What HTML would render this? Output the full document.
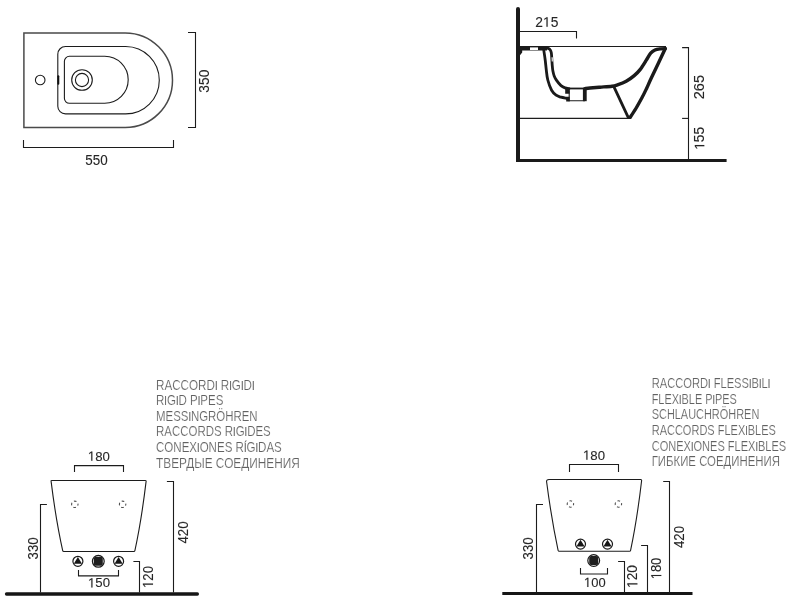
<!DOCTYPE html>
<html><head><meta charset="utf-8">
<style>
html,body{margin:0;padding:0;background:#fff;}
body{width:795px;height:602px;overflow:hidden;}
svg{display:block;will-change:transform;}
text{font-family:"Liberation Sans",sans-serif;}
.d{font-size:13.8px;fill:#262626;text-anchor:middle;stroke:#262626;stroke-width:0.1px;}
.e{font-size:13.2px;fill:#262626;text-anchor:middle;stroke:#262626;stroke-width:0.1px;}
.l{font-size:15px;fill:#626262;stroke:#fff;stroke-width:0.18px;}
.l tspan{font-size:12.2px;stroke:#626262;stroke-width:0.15px;}
.t{fill:none;stroke:#1c1c1c;stroke-width:1.1;}
.g{fill:none;stroke:#4a4a4a;stroke-width:1.5;}
.k{fill:none;stroke:#1a1a1a;stroke-width:2.5;stroke-linecap:round;stroke-linejoin:round;}
.k3{fill:none;stroke:#1a1a1a;stroke-width:2.8;stroke-linecap:round;stroke-linejoin:round;}
.k35{fill:none;stroke:#1a1a1a;stroke-width:3.4;stroke-linecap:round;stroke-linejoin:round;}
.r{font-size:14.7px;fill:#262626;text-anchor:middle;stroke:#262626;stroke-width:0.1px;}
.h{fill:none;stroke:none;}
.one{fill:#262626;stroke:#262626;stroke-width:15;}
</style></head><body>
<svg width="795" height="602" viewBox="0 0 795 602">
<rect width="795" height="602" fill="#fff"/>

<!-- ===== TOP LEFT: plan view ===== -->
<g id="plan">
<path class="g" d="M23.9 32.9 H125.2 A47.3 47.3 0 0 1 125.2 127.5 H23.9 Z"/>
<path class="t" d="M65.5 46.5 H125.6 A33.7 33.7 0 0 1 125.6 113.9 H65.5 A7.7 7.7 0 0 1 57.8 106.2 V54.2 A7.7 7.7 0 0 1 65.5 46.5 Z"/>
<path class="t" d="M69.4 56.3 H104.7 A23.5 23.5 0 0 1 104.7 103.3 H69.4 A5 5 0 0 1 64.4 98.3 V61.3 A5 5 0 0 1 69.4 56.3 Z"/>
<circle class="t" cx="40.2" cy="80" r="4.8"/>
<circle class="t" cx="82" cy="80" r="10.3"/>
<circle class="t" cx="82" cy="80" r="6.6"/>
<path d="M58.3 76.3 V83.7" stroke="#111" stroke-width="2" fill="none" stroke-linecap="round"/>
<path class="t" d="M188 32.5 H195.5 V127.5 H188"/>
<path class="t" d="M23.5 140 V147.5 H173.5 V140"/>
<text class="d" x="96.5" y="164.6" textLength="22.4" lengthAdjust="spacingAndGlyphs">550</text>
<text class="d" transform="translate(209.3 81.2) rotate(-90)" textLength="23" lengthAdjust="spacingAndGlyphs">350</text>
</g>

<!-- ===== TOP RIGHT: section ===== -->
<g id="section">
<path d="M518 9 V161.9" stroke="#1a1a1a" stroke-width="4" fill="none"/><circle cx="518" cy="9" r="2" fill="#1a1a1a"/>
<path d="M516 160.4 H726.6" stroke="#1a1a1a" stroke-width="3" fill="none"/>
<path class="t" d="M520 31.5 H576.5 V38.6"/>
<text class="d" x="546.8" y="26.8">2<tspan class="h">1</tspan>5</text><path class="one" transform="translate(542.96 26.80) scale(0.00675 -0.00674)" d="M515 0V1237L197 1010V1180L530 1409H696V0Z"/>
<path class="t" d="M520 46.5 H666"/>
<path class="t" d="M520 118.4 H630"/>
<!-- deck -->
<path d="M519.5 46.3 H547 V50.4 H522.2 V52.5 L520 55.2 Z" fill="#1a1a1a"/>
<rect x="530" y="47.4" width="8" height="2.6" fill="#fff"/>
<!-- outer skin -->
<path class="k3" d="M543.8 50.3 C544.0 51.9 544.8 56.7 545.2 60.0 C545.6 63.3 545.9 66.7 546.3 70.0 C546.7 73.3 546.9 76.6 547.8 80.0 C548.7 83.4 550.2 87.7 551.6 90.2 C553.0 92.7 554.5 94.0 556.1 95.2 C557.7 96.4 559.2 96.7 561.0 97.2 C562.8 97.7 566.0 98.1 567.0 98.3"/>
<!-- inner basin left -->
<path class="k3" d="M546.5 48.1 C546.9 48.2 548.0 48.2 548.6 48.5 C549.2 48.8 549.8 49.3 550.3 50.0 C550.8 50.7 551.1 51.6 551.3 52.8 C551.5 54.0 551.6 55.5 551.7 57.0 C551.8 58.5 551.9 60.3 552.0 62.0 C552.1 63.7 552.2 65.5 552.4 67.0 C552.5 68.5 552.6 69.5 552.9 71.0 C553.2 72.5 553.6 74.5 554.2 76.0 C554.8 77.5 555.3 78.5 556.4 80.1 C557.5 81.7 559.5 84.3 561.0 85.6 C562.5 86.9 563.9 87.4 565.2 87.9 C566.5 88.4 568.4 88.5 569.0 88.6"/>
<path d="M568 88.5 H585" stroke="#1a1a1a" stroke-width="1.8" fill="none"/>
<rect x="551.5" y="57.3" width="1.5" height="4.2" fill="#c8c8c8" transform="rotate(-4 552.3 59)"/>
<!-- drain -->
<path d="M565.2 88 H569.7 V93.7 H565.2 Z M566.2 96.7 H569.7 V101.4 H566.2 Z" fill="#1a1a1a"/>
<path d="M569.2 90.2 V100.7 H585" class="t" stroke-width="1.2"/>
<path d="M584.8 88.4 V101.2" stroke="#1a1a1a" stroke-width="3.8" fill="none"/>
<!-- basin bottom + right curve -->
<path class="k35" d="M584.8 88.6 C585.7 88.5 587.5 88.2 590.0 88.0 C592.5 87.8 596.3 87.5 600.0 87.2 C603.7 86.9 609.0 86.6 612.0 86.2 C615.0 85.8 615.7 85.4 618.1 84.6 C620.5 83.8 623.5 82.7 626.2 81.2 C628.9 79.7 631.9 77.6 634.2 75.6 C636.6 73.6 638.3 72.0 640.3 69.4 C642.3 66.8 644.6 62.9 646.3 60.2 C648.0 57.5 649.2 54.9 650.7 53.2 C652.2 51.5 653.5 50.7 655.0 50.0 C656.5 49.3 658.3 49.1 660.0 48.9 C661.7 48.7 664.4 48.6 665.3 48.6"/>
<path class="k35" d="M665.3 48.6 C663.0 53.5 654.4 71.4 651.3 78.0 C648.2 84.6 648.4 84.7 646.8 88.0 C645.2 91.3 643.6 94.7 641.8 98.0 C640.0 101.3 638.1 104.8 636.2 108.0 C634.3 111.2 631.2 115.8 630.2 117.3"/>
<path class="k3" d="M614.2 87.3 L628.2 117.3 H630.3"/>
<!-- dims -->
<path class="t" d="M682.1 47.6 H688.5 V159"/>
<path class="t" d="M682.1 118.4 H688.5"/>
<text class="d" transform="translate(704.3 87.1) rotate(-90)" textLength="24.3" lengthAdjust="spacingAndGlyphs">265</text>
<text class="d" transform="translate(704.3 138.3) rotate(-90)"><tspan class="h">1</tspan>55</text><path class="one" transform="translate(704.3 138.3) rotate(-90) translate(-11.52 0.00) scale(0.00675 -0.00674)" d="M515 0V1237L197 1010V1180L530 1409H696V0Z"/>
</g>

<!-- ===== BOTTOM LEFT: rigid ===== -->
<g id="rigid">
<path d="M6.5 594 H197.4" stroke="#161616" stroke-width="3.3" fill="none" stroke-linecap="round"/>
<path class="t" d="M51.9 480.5 H145.4 Q146.3 480.5 146.1 481.4 Q141.4 520.7 134.9 550.6 Q134.7 551.5 133.8 551.5 H63.8 Q62.9 551.5 62.7 550.6 Q56 520.7 51.1 481.4 Q50.9 480.5 51.9 480.5 Z"/>
<path class="t" d="M74.5 472 V465.6 H123.5 V472"/>
<text class="e" x="98.9" y="460.7"><tspan class="h">1</tspan>80</text><path class="one" transform="translate(87.89 460.70) scale(0.00645 -0.00645)" d="M515 0V1237L197 1010V1180L530 1409H696V0Z"/>
<circle cx="74.8" cy="504.3" r="3.2" fill="none" stroke="#505050" stroke-width="1.1" stroke-dasharray="2.7 2.33" stroke-dashoffset="1.35"/><circle cx="122.6" cy="504.3" r="3.2" fill="none" stroke="#505050" stroke-width="1.1" stroke-dasharray="2.7 2.33" stroke-dashoffset="1.35"/>
<path class="t" d="M46.9 504.5 H40.5 V592.5"/>
<text class="r" transform="translate(38 548.4) rotate(-90)" textLength="22.2" lengthAdjust="spacingAndGlyphs">330</text>
<path class="t" d="M166.9 481.5 H173.5 V592.5"/>
<text class="r" transform="translate(188.4 532.5) rotate(-90)" textLength="22.2" lengthAdjust="spacingAndGlyphs">420</text>
<path class="t" d="M133.4 561.5 H139.5 V592.5"/>
<text class="r" transform="translate(153 577) rotate(-90)" textLength="22" lengthAdjust="spacingAndGlyphs"><tspan class="h">1</tspan>20</text><path class="one" transform="translate(153 577) rotate(-90) translate(-11.00 0.00) scale(0.00644 -0.00718)" d="M515 0V1237L197 1010V1180L530 1409H696V0Z"/>
<g transform="translate(77.9 561.3)"><circle r="5" fill="#fff" stroke="#1a1a1a" stroke-width="1.2"/><path d="M0 -4.3 L4.1 2.5 H-4.1 Z" fill="#161616"/></g><g transform="translate(118.6 561.3)"><circle r="5" fill="#fff" stroke="#1a1a1a" stroke-width="1.2"/><path d="M0 -4.3 L4.1 2.5 H-4.1 Z" fill="#161616"/></g><g transform="translate(98.3 561.3)"><circle r="5.9" fill="#fff" stroke="#1a1a1a" stroke-width="1.2"/><rect x="-4.5" y="-4.5" width="9" height="9" rx="2" fill="#1e1e1e"/></g>
<path class="t" d="M78.5 570 V575.9 H118.5 V570"/>
<text class="e" x="99" y="587.4"><tspan class="h">1</tspan>50</text><path class="one" transform="translate(87.99 587.40) scale(0.00645 -0.00645)" d="M515 0V1237L197 1010V1180L530 1409H696V0Z"/>
</g>

<!-- ===== BOTTOM RIGHT: flexible ===== -->
<g id="flex">
<path d="M502.3 593.5 H692.5" stroke="#161616" stroke-width="3" fill="none"/>
<path class="t" d="M549 479.5 H640.6 Q641.8 479.5 641.6 480.7 Q637 520 630.6 550.3 Q630.4 551.3 629.5 551.3 H559.2 Q558.3 551.3 558.1 550.3 Q551.6 520 546.6 481.7 Q546.3 479.5 549 479.5 Z"/>
<path class="t" d="M569.5 472 V464.5 H618.5 V472"/>
<text class="e" x="594" y="459.7"><tspan class="h">1</tspan>80</text><path class="one" transform="translate(582.99 459.70) scale(0.00645 -0.00645)" d="M515 0V1237L197 1010V1180L530 1409H696V0Z"/>
<circle cx="570.4" cy="504" r="3.2" fill="none" stroke="#505050" stroke-width="1.1" stroke-dasharray="2.7 2.33" stroke-dashoffset="1.35"/><circle cx="618.4" cy="504" r="3.2" fill="none" stroke="#505050" stroke-width="1.1" stroke-dasharray="2.7 2.33" stroke-dashoffset="1.35"/>
<path class="t" d="M543 504.5 H536.5 V592.5"/>
<text class="r" transform="translate(532.6 548.4) rotate(-90)" textLength="22.2" lengthAdjust="spacingAndGlyphs">330</text>
<path class="t" d="M663.2 481.5 H669.5 V592.5"/>
<text class="r" transform="translate(683.5 537) rotate(-90)" textLength="22" lengthAdjust="spacingAndGlyphs">420</text>
<path class="t" d="M641.1 545.5 H647.5 V592.5"/>
<text class="r" transform="translate(661.3 568.5) rotate(-90)" textLength="21.6" lengthAdjust="spacingAndGlyphs"><tspan class="h">1</tspan>80</text><path class="one" transform="translate(661.3 568.5) rotate(-90) translate(-10.80 0.00) scale(0.00632 -0.00718)" d="M515 0V1237L197 1010V1180L530 1409H696V0Z"/>
<path class="t" d="M618.1 561.5 H624.5 V592.5"/>
<text class="r" transform="translate(637.4 576.5) rotate(-90)" textLength="23" lengthAdjust="spacingAndGlyphs"><tspan class="h">1</tspan>20</text><path class="one" transform="translate(637.4 576.5) rotate(-90) translate(-11.50 0.00) scale(0.00673 -0.00718)" d="M515 0V1237L197 1010V1180L530 1409H696V0Z"/>
<g transform="translate(580.5 544.1)"><circle r="5" fill="#fff" stroke="#1a1a1a" stroke-width="1.2"/><path d="M0 -4.3 L4.1 2.5 H-4.1 Z" fill="#161616"/></g><g transform="translate(607.5 544.1)"><circle r="5" fill="#fff" stroke="#1a1a1a" stroke-width="1.2"/><path d="M0 -4.3 L4.1 2.5 H-4.1 Z" fill="#161616"/></g><g transform="translate(593.7 560.5)"><circle r="5.9" fill="#fff" stroke="#1a1a1a" stroke-width="1.2"/><rect x="-4.5" y="-4.5" width="9" height="9" rx="2" fill="#1e1e1e"/></g>
<path class="t" d="M580.5 568 V574 H607.5 V568"/>
<text class="e" x="594.8" y="586.9" textLength="21.6" lengthAdjust="spacingAndGlyphs"><tspan class="h">1</tspan>00</text><path class="one" transform="translate(584.00 586.90) scale(0.00633 -0.00645)" d="M515 0V1237L197 1010V1180L530 1409H696V0Z"/>
</g>

<!-- ===== LABELS ===== -->
<g id="labels">
<text class="l" x="156" y="389.6" textLength="98.6" lengthAdjust="spacingAndGlyphs">RACCORD<tspan>I</tspan> R<tspan>I</tspan>G<tspan>I</tspan>D<tspan>I</tspan></text>
<text class="l" x="156" y="405.2" textLength="67.4" lengthAdjust="spacingAndGlyphs">R<tspan>I</tspan>G<tspan>I</tspan>D P<tspan>I</tspan>PES</text>
<text class="l" x="156" y="420.8" textLength="101.6" lengthAdjust="spacingAndGlyphs">MESS<tspan>I</tspan>NGRÖHREN</text>
<text class="l" x="156" y="436.4" textLength="114.7" lengthAdjust="spacingAndGlyphs">RACCORDS R<tspan>I</tspan>G<tspan>I</tspan>DES</text>
<text class="l" x="156" y="452.0" textLength="125.8" lengthAdjust="spacingAndGlyphs">CONEX<tspan>I</tspan>ONES R<tspan>Í</tspan>G<tspan>I</tspan>DAS</text>
<text class="l" x="156" y="467.6" textLength="143.9" lengthAdjust="spacingAndGlyphs">ТВЕРДЫЕ СОЕДИНЕНИЯ</text>

<text class="l" x="651.7" y="388.1" textLength="118.5" lengthAdjust="spacingAndGlyphs">RACCORD<tspan>I</tspan> FLESS<tspan>I</tspan>B<tspan>I</tspan>L<tspan>I</tspan></text>
<text class="l" x="651.7" y="403.7" textLength="85.2" lengthAdjust="spacingAndGlyphs">FLEX<tspan>I</tspan>BLE P<tspan>I</tspan>PES</text>
<text class="l" x="651.7" y="419.3" textLength="107.6" lengthAdjust="spacingAndGlyphs">SCHLAUCHRÖHREN</text>
<text class="l" x="651.7" y="434.9" textLength="124.2" lengthAdjust="spacingAndGlyphs">RACCORDS FLEX<tspan>I</tspan>BLES</text>
<text class="l" x="651.7" y="450.5" textLength="134.5" lengthAdjust="spacingAndGlyphs">CONEX<tspan>I</tspan>ONES FLEX<tspan>I</tspan>BLES</text>
<text class="l" x="651.7" y="466.1" textLength="128.3" lengthAdjust="spacingAndGlyphs">ГИБКИЕ СОЕДИНЕНИЯ</text>
</g>
</svg>
</body></html>
